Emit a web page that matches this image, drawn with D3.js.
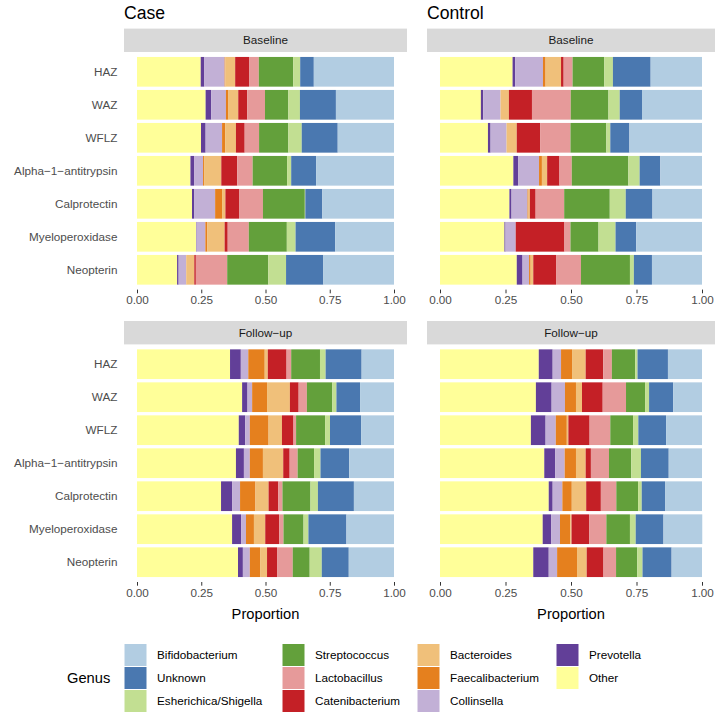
<!DOCTYPE html>
<html>
<head>
<meta charset="utf-8">
<script src="https://cdn.jsdelivr.net/npm/d3@7"></script>
<style>
  html, body { margin: 0; padding: 0; background: #fff; }
  svg { display: block; font-family: "Liberation Sans", Arial, Helvetica, sans-serif; }
</style>
</head>
<body>
<svg id="chart" width="717" height="717"></svg>
<script>
// ---------- DATA ----------
const groups = ["Case", "Control"];
const times = ["Baseline", "Follow\u2212up"];
const measures = ["HAZ", "WAZ", "WFLZ", "Alpha\u22121\u2212antitrypsin", "Calprotectin", "Myeloperoxidase", "Neopterin"];
// legend order (ggplot factor order)
const genera = ["Bifidobacterium", "Unknown", "Esherichica/Shigella", "Streptococcus", "Lactobacillus",
  "Catenibacterium", "Bacteroides", "Faecalibacterium", "Collinsella", "Prevotella", "Other"];
const genusColors = ["#B2CDE2", "#4A78B0", "#C2DF92", "#63A03B", "#E69A9A",
  "#C42026", "#F0C07A", "#E5801E", "#C2B0D6", "#623F98", "#FFFF99"];
// stacking order, left to right
const stackOrder = ["Other", "Prevotella", "Collinsella", "Faecalibacterium", "Bacteroides", "Catenibacterium",
  "Lactobacillus", "Streptococcus", "Esherichica/Shigella", "Unknown", "Bifidobacterium"];
const xTicks = [0, 0.25, 0.5, 0.75, 1];

// rows follow `measures`, columns follow `stackOrder`
const caseBaseline = [
  [0.248, 0.014, 0.079, 0.003, 0.038, 0.054, 0.038, 0.134, 0.027, 0.053, 0.312],
  [0.267, 0.022, 0.057, 0.010, 0.038, 0.035, 0.069, 0.091, 0.045, 0.140, 0.226],
  [0.249, 0.018, 0.064, 0.012, 0.042, 0.034, 0.056, 0.114, 0.052, 0.140, 0.219],
  [0.208, 0.014, 0.035, 0.004, 0.067, 0.062, 0.060, 0.134, 0.016, 0.097, 0.303],
  [0.214, 0.008, 0.082, 0.027, 0.013, 0.053, 0.093, 0.163, 0.002, 0.066, 0.279],
  [0.230, 0.002, 0.034, 0.008, 0.067, 0.012, 0.082, 0.148, 0.034, 0.154, 0.229],
  [0.156, 0.006, 0.029, 0.001, 0.031, 0.006, 0.122, 0.160, 0.069, 0.145, 0.275]
];
const controlBaseline = [
  [0.277, 0.010, 0.106, 0.010, 0.059, 0.010, 0.034, 0.121, 0.033, 0.144, 0.196],
  [0.156, 0.009, 0.066, 0.000, 0.032, 0.088, 0.148, 0.144, 0.043, 0.085, 0.229],
  [0.183, 0.010, 0.061, 0.000, 0.039, 0.089, 0.116, 0.137, 0.015, 0.073, 0.277],
  [0.280, 0.018, 0.080, 0.011, 0.020, 0.047, 0.047, 0.216, 0.043, 0.079, 0.159],
  [0.265, 0.008, 0.061, 0.004, 0.005, 0.022, 0.109, 0.174, 0.061, 0.102, 0.189],
  [0.246, 0.004, 0.039, 0.000, 0.000, 0.186, 0.023, 0.107, 0.065, 0.079, 0.251],
  [0.293, 0.022, 0.025, 0.006, 0.010, 0.087, 0.095, 0.187, 0.015, 0.069, 0.191]
];
const caseFollowup = [
  [0.362, 0.042, 0.029, 0.064, 0.012, 0.073, 0.018, 0.112, 0.022, 0.140, 0.126],
  [0.409, 0.021, 0.018, 0.058, 0.089, 0.034, 0.032, 0.099, 0.016, 0.092, 0.132],
  [0.396, 0.025, 0.018, 0.073, 0.052, 0.045, 0.010, 0.113, 0.019, 0.121, 0.128],
  [0.385, 0.031, 0.023, 0.051, 0.079, 0.025, 0.031, 0.064, 0.025, 0.112, 0.174],
  [0.327, 0.043, 0.031, 0.060, 0.051, 0.038, 0.016, 0.109, 0.029, 0.140, 0.156],
  [0.370, 0.035, 0.019, 0.031, 0.044, 0.054, 0.017, 0.078, 0.019, 0.148, 0.185],
  [0.393, 0.019, 0.027, 0.040, 0.027, 0.039, 0.061, 0.066, 0.047, 0.105, 0.176]
];
const controlFollowup = [
  [0.377, 0.053, 0.032, 0.042, 0.052, 0.067, 0.033, 0.089, 0.009, 0.116, 0.130],
  [0.366, 0.060, 0.051, 0.042, 0.023, 0.079, 0.089, 0.073, 0.015, 0.092, 0.110],
  [0.347, 0.056, 0.039, 0.042, 0.006, 0.081, 0.079, 0.087, 0.020, 0.106, 0.137],
  [0.398, 0.042, 0.036, 0.043, 0.037, 0.020, 0.069, 0.085, 0.037, 0.106, 0.127],
  [0.415, 0.015, 0.037, 0.036, 0.055, 0.056, 0.059, 0.083, 0.014, 0.089, 0.141],
  [0.392, 0.032, 0.034, 0.039, 0.005, 0.067, 0.066, 0.090, 0.022, 0.106, 0.148],
  [0.356, 0.059, 0.032, 0.076, 0.037, 0.064, 0.048, 0.081, 0.020, 0.111, 0.116]
];

// ---------- LAYOUT ----------
const svg = d3.select("#chart");
const color = d3.scaleOrdinal().domain(genera).range(genusColors);
const FONT_AXIS = 11.7, FONT_TITLE = 14.7, FONT_MAIN = 17.6;

const cols = [
  { group: "Case", barRange: [137, 394], panel: [124, 407], showY: true },
  { group: "Control", barRange: [440, 702], panel: [427, 715], showY: false }
];
const rows = [
  { time: times[0], panel: [52, 289.6], strip: [28.6, 52] },
  { time: times[1], panel: [344.4, 582], strip: [321, 344.4] }
];
const panelData = {
  "Case|0": caseBaseline, "Control|0": controlBaseline,
  "Case|1": caseFollowup, "Control|1": controlFollowup
};

const stack = d3.stack().keys(stackOrder);

cols.forEach(c => {
  // group title
  svg.append("text")
    .attr("x", c.panel[0]).attr("y", 19)
    .attr("font-size", FONT_MAIN).attr("fill", "#000")
    .text(c.group);

  const x = d3.scaleLinear().domain([0, 1]).range(c.barRange);

  rows.forEach((r, ri) => {
    const vals = panelData[c.group + "|" + ri];
    const table = measures.map((m, i) => {
      const o = { measure: m };
      stackOrder.forEach((g, j) => o[g] = vals[i][j]);
      return o;
    });
    const series = stack(table);

    const y = d3.scaleBand().domain(measures).range(r.panel)
      .paddingInner(0.1).paddingOuter(0.15);

    // strip
    svg.append("rect")
      .attr("x", c.panel[0]).attr("y", r.strip[0])
      .attr("width", c.panel[1] - c.panel[0]).attr("height", r.strip[1] - r.strip[0])
      .attr("fill", "#D9D9D9");
    svg.append("text")
      .attr("x", (c.panel[0] + c.panel[1]) / 2).attr("y", (r.strip[0] + r.strip[1]) / 2)
      .attr("dy", "0.35em").attr("text-anchor", "middle")
      .attr("font-size", FONT_AXIS).attr("fill", "#1A1A1A")
      .text(r.time);

    // bars
    const g = svg.append("g");
    g.selectAll("g.series").data(series).join("g")
      .attr("fill", d => color(d.key))
      .selectAll("rect").data(d => d).join("rect")
      .attr("x", d => x(d[0]))
      .attr("width", d => Math.max(0, x(d[1]) - x(d[0])))
      .attr("y", d => y(d.data.measure))
      .attr("height", y.bandwidth());

    // x axis
    const ax = svg.append("g")
      .attr("transform", `translate(0,${r.panel[1]})`)
      .call(d3.axisBottom(x).tickValues(xTicks).tickFormat(d3.format(".2f"))
        .tickSize(3.7).tickPadding(2.6));
    ax.select(".domain").remove();
    ax.selectAll(".tick line").attr("stroke", "#333333").attr("stroke-width", 1);
    ax.selectAll(".tick text").attr("fill", "#4D4D4D")
      .attr("font-size", FONT_AXIS).attr("font-family", "Liberation Sans, Arial, sans-serif");

    // y axis labels
    if (c.showY) {
      const ay = svg.append("g")
        .attr("transform", `translate(${c.panel[0]},0)`)
        .call(d3.axisLeft(y).tickSize(3.7).tickPadding(2.9));
      ay.select(".domain").remove();
      ay.selectAll(".tick line").remove();
      ay.selectAll(".tick text").attr("fill", "#4D4D4D")
        .attr("font-size", FONT_AXIS).attr("font-family", "Liberation Sans, Arial, sans-serif");
    }
  });

  // axis title
  svg.append("text")
    .attr("x", (c.panel[0] + c.panel[1]) / 2).attr("y", 619)
    .attr("text-anchor", "middle").attr("font-size", FONT_TITLE).attr("fill", "#000")
    .text("Proportion");
});

// ---------- LEGEND ----------
const keySize = 23;
const legendTop = 643.5;
const keyColX = [124, 282, 417, 556];
const legend = svg.append("g");
legend.append("text")
  .attr("x", 67).attr("y", legendTop + keySize * 1.5).attr("dy", "0.35em")
  .attr("font-size", FONT_TITLE).attr("fill", "#000")
  .text("Genus");
genera.forEach((gname, i) => {
  const col = Math.floor(i / 3), row = i % 3;
  const kx = keyColX[col], ky = legendTop + row * keySize;
  legend.append("rect")
    .attr("x", kx).attr("y", ky).attr("width", keySize).attr("height", keySize)
    .attr("fill", color(gname)).attr("stroke", "#fff").attr("stroke-width", 1);
  legend.append("text")
    .attr("x", kx + keySize + 10).attr("y", ky + keySize / 2).attr("dy", "0.35em")
    .attr("font-size", FONT_AXIS).attr("fill", "#000")
    .text(gname);
});
</script>
</body>
</html>
